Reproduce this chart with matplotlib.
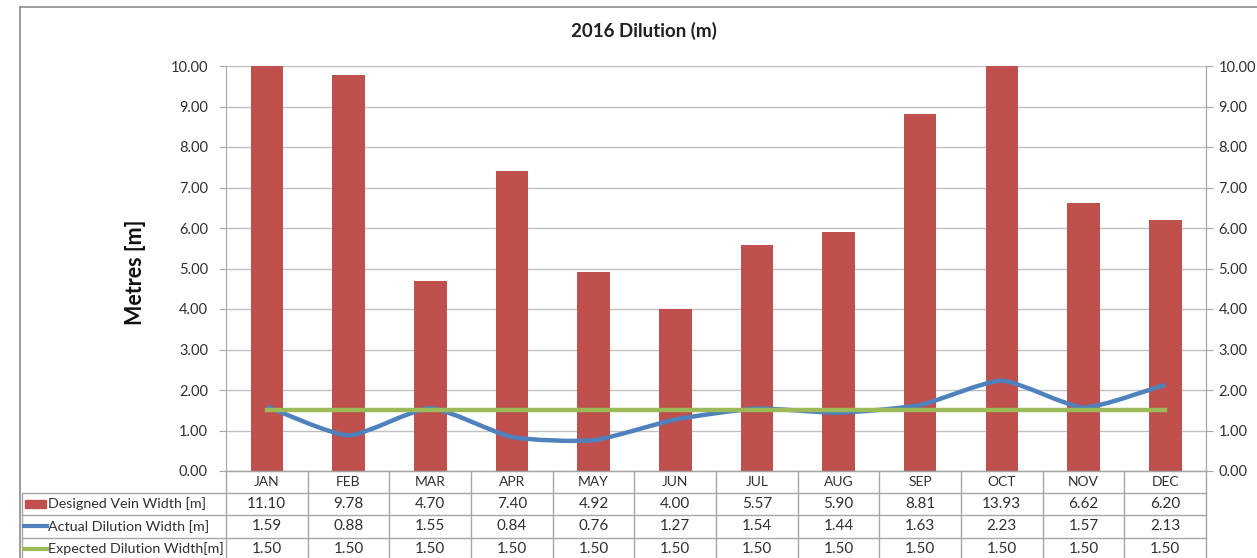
import matplotlib
matplotlib.use("Agg")
import matplotlib.pyplot as plt
from matplotlib.lines import Line2D
from matplotlib.patches import Rectangle, PathPatch
from matplotlib.path import Path
import numpy as np

plt.rcParams['font.family'] = ['Lato', 'DejaVu Sans']

months = ["JAN", "FEB", "MAR", "APR", "MAY", "JUN", "JUL", "AUG", "SEP", "OCT", "NOV", "DEC"]
designed_vein = [11.10, 9.78, 4.70, 7.40, 4.92, 4.00, 5.57, 5.90, 8.81, 13.93, 6.62, 6.20]
actual_dilution = [1.59, 0.88, 1.55, 0.84, 0.76, 1.27, 1.54, 1.44, 1.63, 2.23, 1.57, 2.13]
expected_dilution = [1.50, 1.50, 1.50, 1.50, 1.50, 1.50, 1.50, 1.50, 1.50, 1.50, 1.50, 1.50]
series_names = ["Designed Vein Width [m]", "Actual Dilution Width [m]", "Expected Dilution Width[m]"]
yticks = [0, 1, 2, 3, 4, 5, 6, 7, 8, 9, 10]

RED = "#C0504D"
BLUE = "#4F81BD"
GREEN = "#9BBB59"
AXC = "#A6A6A6"
GRID = "#C0C0C0"
TXT = "#303030"

W, H = 1257, 558
fig = plt.figure(figsize=(W / 100, H / 100), dpi=100)

def fx(px):
    return px / W

def fy(py):
    return 1 - py / H

def smooth_path(xs, ys, t=0.1):
    # mildly smoothed line drawn as cubic Bezier segments through the data points
    xs = np.asarray(xs, float)
    ys = np.asarray(ys, float)
    verts = [(xs[0], ys[0])]
    codes = [Path.MOVETO]
    m = len(xs)
    for i in range(m - 1):
        p0 = (xs[max(i - 1, 0)], ys[max(i - 1, 0)])
        p1 = (xs[i], ys[i])
        p2 = (xs[i + 1], ys[i + 1])
        p3 = (xs[min(i + 2, m - 1)], ys[min(i + 2, m - 1)])
        c1 = (p1[0] + (p2[0] - p0[0]) * t, p1[1] + (p2[1] - p0[1]) * t)
        c2 = (p2[0] - (p3[0] - p1[0]) * t, p2[1] - (p3[1] - p1[1]) * t)
        verts += [c1, c2, p2]
        codes += [Path.CURVE4] * 3
    return Path(verts, codes)

ax_l, ax_r, ax_t, ax_b = 226, 1206, 66, 471
ax = fig.add_axes([fx(ax_l), fy(ax_b), fx(ax_r) - fx(ax_l), fy(ax_t) - fy(ax_b)])
n = len(months)
x = np.arange(n)
ax.bar(x, designed_vein, width=0.4, color=RED, zorder=2)
ax.add_patch(PathPatch(smooth_path(x, actual_dilution), facecolor='none', edgecolor=BLUE,
                       lw=3.2, zorder=3, capstyle='butt', joinstyle='round'))
ax.plot(x, expected_dilution, color=GREEN, lw=3.2, zorder=4)
ax.set_xlim(-0.5, n - 0.5)
ax.set_ylim(0, 10)
ax.set_yticks(yticks)
ax.set_yticklabels([f"{v:.2f}" for v in yticks], fontsize=10.5, color=TXT)
ax.set_xticks([])
ax.grid(axis='y', color=GRID, lw=1, zorder=0)
ax.spines['top'].set_visible(False)
for s in ['left', 'right', 'bottom']:
    ax.spines[s].set_color(AXC)
ax.tick_params(axis='y', direction='out', length=5, color=AXC, pad=8)

ax2 = ax.twinx()
ax2.set_ylim(0, 10)
ax2.set_yticks(yticks)
ax2.set_yticklabels([f"{v:.2f}" for v in yticks], fontsize=10.5, color=TXT)
ax2.tick_params(axis='y', direction='out', length=5, color=AXC, pad=4)
for s in ['top', 'left', 'bottom']:
    ax2.spines[s].set_visible(False)
ax2.spines['right'].set_color(AXC)

fig.text(fx(135), fy(272), "Metres [m]", rotation=90, ha='center', va='center',
         fontsize=15.5, fontweight='bold', color="#101010")

fig.text(fx(644), fy(31), "2016 Dilution (m)", ha='center', va='center',
         fontsize=13.5, fontweight='bold', color="#202020")

# outer frame
fig.add_artist(Line2D([fx(20), fx(1262)], [fy(7), fy(7)], color="#8C8C8C", lw=1.2))
fig.add_artist(Line2D([fx(20), fx(20)], [fy(7), fy(565)], color="#8C8C8C", lw=1.2))

# data table
row_tops = [471, 492.5, 515, 537.5, 560]
colw = (ax_r - ax_l) / n
tc = AXC
for i in range(n + 1):
    xx = ax_l + i * colw
    fig.add_artist(Line2D([fx(xx), fx(xx)], [fy(471), fy(560)], color=tc, lw=1))
for k, yy in enumerate(row_tops):
    x0 = ax_l if k == 0 else 22
    fig.add_artist(Line2D([fx(x0), fx(ax_r)], [fy(yy), fy(yy)], color=tc, lw=1))
fig.add_artist(Line2D([fx(22), fx(22)], [fy(492.5), fy(560)], color=tc, lw=1))

for i, m in enumerate(months):
    cx = ax_l + (i + 0.5) * colw
    fig.text(fx(cx), fy((row_tops[0] + row_tops[1]) / 2), m, ha='center', va='center',
             fontsize=10, color=TXT)
rows = [designed_vein, actual_dilution, expected_dilution]
for r, vals in enumerate(rows):
    yc = (row_tops[r + 1] + row_tops[r + 2]) / 2
    for i, v in enumerate(vals):
        cx = ax_l + (i + 0.5) * colw
        fig.text(fx(cx), fy(yc), f"{v:.2f}", ha='center', va='center',
                 fontsize=11, color=TXT)
    if r == 0:
        fig.add_artist(Rectangle((fx(25), fy(yc + 4)), fx(46) - fx(25), fy(yc - 4) - fy(yc + 4),
                                 color=RED))
    else:
        col = BLUE if r == 1 else GREEN
        fig.add_artist(Line2D([fx(24), fx(47)], [fy(yc), fy(yc)], color=col, lw=3))
    fig.text(fx(48), fy(yc), series_names[r], ha='left', va='center',
             fontsize=10.3, color=TXT)

fig.savefig("out.png", dpi=100)
